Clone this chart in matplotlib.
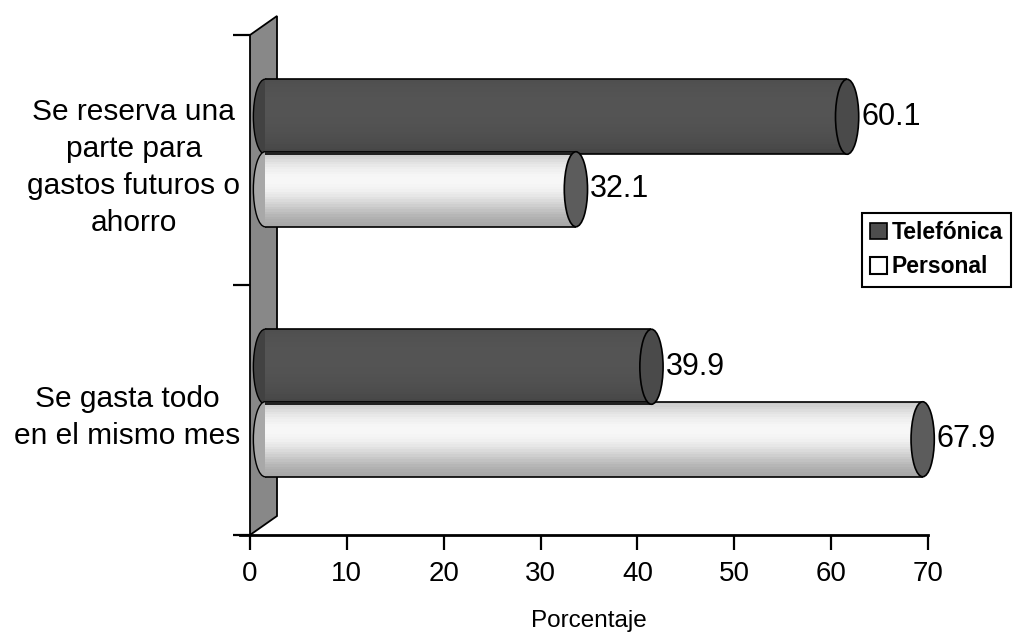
import matplotlib
matplotlib.use('Agg')
import matplotlib.pyplot as plt
import matplotlib.transforms as mtransforms
from matplotlib.patches import Ellipse, Polygon, Patch
import numpy as np

plt.rcParams['font.family'] = ['Liberation Sans', 'DejaVu Sans']

# datos
categorias = ['Se reserva una\nparte para\ngastos futuros o\nahorro',
              'Se gasta todo\nen el mismo mes']
telefonica = [60.1, 39.9]
personal = [32.1, 67.9]
series = ['Telefónica', 'Personal']

fig = plt.figure(figsize=(10.17, 6.34), dpi=100)
ax = fig.add_axes([250/1017, 1-535/634, 678/1017, 500/634])
ax.set_xlim(0, 70)
ax.set_ylim(0, 2)

ycat = np.array([1.5, 0.5])
h = 0.30
sep = 0.145
cap_w = 2.4  # ancho de la tapa del cilindro (unidades de datos)

# desplazamiento "3D" de las barras y de la pared
trans = ax.transData + mtransforms.ScaledTranslation(0.15, 0.07, fig.dpi_scale_trans)

# pared lateral gris
front = ax.transData.transform([(0, 0), (0, 2)])
back = front + np.array([27, 19])
wall = Polygon(np.vstack([front, back[::-1]]), closed=True,
               facecolor='#888888', edgecolor='black', linewidth=1.3,
               transform=mtransforms.IdentityTransform(), clip_on=False, zorder=1)
ax.add_patch(wall)


def cilindro(yc, val, top, bottom, capcol, pw):
    n = 30
    dh = h / n
    y0 = yc - h/2
    # tapa izquierda
    ax.add_patch(Ellipse((0, yc), cap_w, h, facecolor=bottom, edgecolor='black',
                         linewidth=1.0, transform=trans, clip_on=False, zorder=2))
    for k in range(n):
        t = k / (n - 1)  # 0 abajo, 1 arriba
        w = np.sin(t * np.pi * 0.8) ** pw
        c = np.array(bottom) * (1 - w) + np.array(top) * w
        ax.barh(y0 + k*dh, val, height=dh*1.05, left=0, align='edge', color=c,
                linewidth=0, transform=trans, clip_on=False, zorder=3)
    ax.hlines([y0, y0 + h], 0, val, colors='black', linewidth=1.2,
              transform=trans, clip_on=False, zorder=4)
    ax.add_patch(Ellipse((val, yc), cap_w, h, facecolor=capcol, edgecolor='black',
                         linewidth=1.2, transform=trans, clip_on=False, zorder=5))


for i in range(len(categorias)):
    cilindro(ycat[i] + sep, telefonica[i], (0.33, 0.33, 0.33), (0.26, 0.26, 0.26), '#4a4a4a', 0.6)
    cilindro(ycat[i] - sep, personal[i], (0.97, 0.97, 0.97), (0.66, 0.66, 0.66), '#5c5c5c', 1.6)

lab_off = mtransforms.ScaledTranslation(0.29, 0.07, fig.dpi_scale_trans)
for i in range(len(categorias)):
    ax.text(telefonica[i], ycat[i] + sep, f'{telefonica[i]:.1f}', fontsize=22,
            ha='left', va='center', transform=ax.transData + lab_off, zorder=6)
    ax.text(personal[i], ycat[i] - sep, f'{personal[i]:.1f}', fontsize=22,
            ha='left', va='center', transform=ax.transData + lab_off, zorder=6)

# ejes
for s in ['top', 'right', 'left']:
    ax.spines[s].set_visible(False)
ax.spines['bottom'].set_linewidth(2)
ax.spines['bottom'].set_bounds(-1.0, 70)
ax.set_xticks(np.arange(0, 71, 10))
ax.tick_params(axis='x', direction='out', length=11, width=1.6, labelsize=20, pad=8)
ax.set_yticks([0, 1, 2])
ax.set_yticklabels([])
ax.tick_params(axis='y', which='major', direction='out', length=12, width=1.6)
ax.set_yticks(ycat, categorias, minor=True)
ax.tick_params(axis='y', which='minor', length=0, labelsize=21.5, pad=7)
for lab in ax.get_yticklabels(minor=True):
    lab.set_multialignment('center')
    lab.set_linespacing(1.4)
ax.set_xlabel('Porcentaje', fontsize=17.5, labelpad=16)

handles = [Patch(facecolor='#4d4d4d', edgecolor='black', linewidth=1.2),
           Patch(facecolor='white', edgecolor='black', linewidth=1.5)]
leg = fig.legend(handles, series, loc='upper left',
                 bbox_to_anchor=(862/1017, 1-213/634), fancybox=False,
                 edgecolor='black', framealpha=1,
                 prop={'weight': 'bold', 'size': 16.5},
                 handlelength=0.75, handleheight=0.75, handletextpad=0.2,
                 borderpad=0.35, labelspacing=0.5, borderaxespad=0)
leg.get_frame().set_linewidth(1.5)

fig.savefig('out.png', dpi=100)
